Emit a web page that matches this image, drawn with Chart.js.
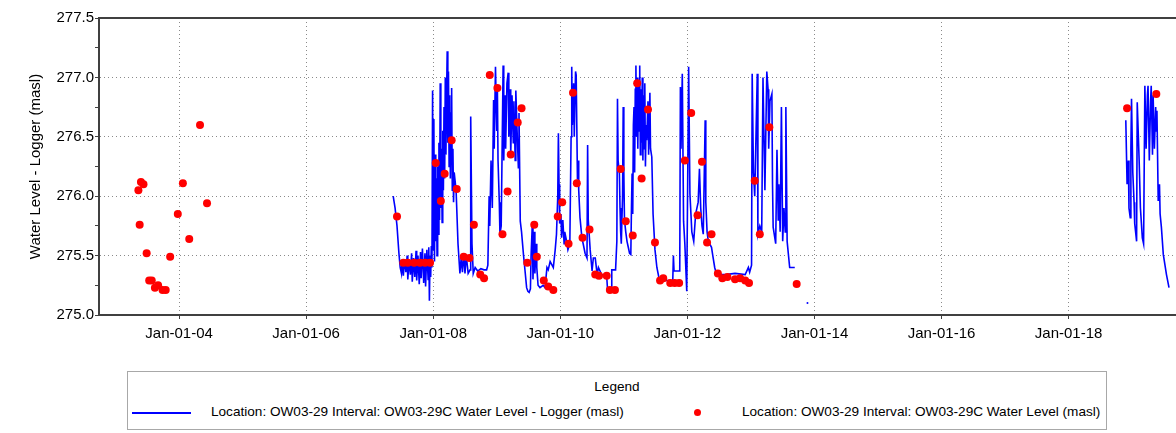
<!DOCTYPE html>
<html>
<head>
<meta charset="utf-8">
<title>OW03-29 water level</title>
<script src="https://cdn.jsdelivr.net/npm/chart.js@4.4.1/dist/chart.umd.min.js"></script>
<style>
  body { margin: 0; background: #fff; font-family: "Liberation Sans", Arial, sans-serif; }
  #wrap { position: relative; width: 1176px; height: 433px; overflow: hidden; }
  #chart { position: absolute; left: 0; top: 0; }
  #legend {
    position: absolute; left: 127px; top: 371px; width: 980px; height: 59px;
    border: 1px solid #a8a8a8; box-sizing: border-box; font-size: 13.6px; color: #000;
  }
  #legend .title { position: absolute; left: 0; right: 0; top: 7px; text-align: center; }
  #legend .item { position: absolute; top: 32px; white-space: nowrap; }
  #legend .line { position: absolute; top: 40px; left: 4px; width: 59px; border-top: 2px solid #0000ff; }
  #legend .dot { position: absolute; top: 37px; left: 566px; width: 7px; height: 7px; border-radius: 50%; background: #ff0000; }
</style>
</head>
<body>
<div id="wrap">
  <canvas id="chart" width="1176" height="349"></canvas>
  <div id="legend">
    <div class="title">Legend</div>
    <span class="line"></span>
    <span class="item" style="left:83px">Location: OW03-29 Interval: OW03-29C Water Level - Logger (masl)</span>
    <span class="dot"></span>
    <span class="item" style="left:614px">Location: OW03-29 Interval: OW03-29C Water Level (masl)</span>
  </div>
</div>
<script>
// axis ticks
const xTickYears = [2004, 2006, 2008, 2010, 2012, 2014, 2016, 2018];
const xTickLabels = ["Jan-01-04", "Jan-01-06", "Jan-01-08", "Jan-01-10", "Jan-01-12", "Jan-01-14", "Jan-01-16", "Jan-01-18"];

// manual water level readings [decimal year, masl]
const manualEarly = [
  [2003.36, 276.05], [2003.38, 275.76], [2003.40, 276.12], [2003.44, 276.10], [2003.49, 275.52],
  [2003.53, 275.29], [2003.57, 275.29], [2003.62, 275.23], [2003.67, 275.25], [2003.74, 275.21],
  [2003.79, 275.21], [2003.86, 275.49], [2003.98, 275.85], [2004.06, 276.11], [2004.16, 275.64],
  [2004.33, 276.60], [2004.44, 275.94]
];
const manualMid = [
  [2007.43, 275.83], [2007.53, 275.44], [2007.60, 275.44], [2007.70, 275.44], [2007.79, 275.44],
  [2007.87, 275.44], [2007.95, 275.44], [2008.04, 276.28], [2008.12, 275.96], [2008.18, 276.19],
  [2008.29, 276.47], [2008.37, 276.06], [2008.48, 275.49], [2008.57, 275.48], [2008.64, 275.76],
  [2008.74, 275.34], [2008.80, 275.31], [2008.89, 277.02], [2009.01, 276.91], [2009.09, 275.68],
  [2009.17, 276.04], [2009.22, 276.35], [2009.33, 276.62], [2009.39, 276.74], [2009.48, 275.44],
  [2009.59, 275.76], [2009.63, 275.49], [2009.74, 275.29], [2009.81, 275.24], [2009.89, 275.21],
  [2009.96, 275.83], [2010.03, 275.95], [2010.13, 275.60], [2010.20, 276.87], [2010.26, 276.11],
  [2010.35, 275.65], [2010.46, 275.72], [2010.55, 275.34], [2010.61, 275.33], [2010.73, 275.33],
  [2010.78, 275.21], [2010.86, 275.21], [2010.95, 276.23], [2011.03, 275.79], [2011.14, 275.67],
  [2011.21, 276.95], [2011.28, 276.15], [2011.38, 276.73], [2011.49, 275.61], [2011.57, 275.29],
  [2011.62, 275.31], [2011.73, 275.27], [2011.80, 275.27], [2011.87, 275.27], [2011.96, 276.30],
  [2012.06, 276.70], [2012.16, 275.84], [2012.23, 276.29], [2012.31, 275.61], [2012.38, 275.68],
  [2012.48, 275.35], [2012.55, 275.31], [2012.63, 275.32], [2012.75, 275.30], [2012.83, 275.31],
  [2012.91, 275.29], [2012.97, 275.27], [2013.06, 276.13], [2013.14, 275.68], [2013.29, 276.58],
  [2013.72, 275.26]
];
const manualLate = [[2018.92, 276.74], [2019.38, 276.86]];

// logger record [decimal year, masl]
const logger2007to2013 = [
  [2007.37, 276.00], [2007.40, 275.90], [2007.43, 275.75], [2007.46, 275.52], [2007.48, 275.40],
  [2007.50, 275.35], [2007.51, 275.45], [2007.53, 275.33], [2007.55, 275.47], [2007.57, 275.36],
  [2007.59, 275.50], [2007.60, 275.30], [2007.62, 275.46], [2007.64, 275.34], [2007.66, 275.52],
  [2007.67, 275.28], [2007.69, 275.48], [2007.71, 275.32], [2007.73, 275.54], [2007.74, 275.29],
  [2007.76, 275.50], [2007.78, 275.26], [2007.80, 275.53], [2007.81, 275.31], [2007.83, 275.56],
  [2007.85, 275.27], [2007.87, 275.52], [2007.88, 275.24], [2007.90, 275.55], [2007.92, 275.30],
  [2007.93, 275.57], [2007.94, 275.12], [2007.95, 275.50], [2007.96, 275.32], [2007.97, 275.58],
  [2007.98, 275.40], [2007.99, 276.89], [2008.00, 275.55], [2008.01, 276.65], [2008.02, 275.45],
  [2008.03, 276.35], [2008.04, 275.62], [2008.05, 276.15], [2008.06, 275.50], [2008.07, 276.25],
  [2008.08, 275.68], [2008.09, 276.45], [2008.10, 275.80], [2008.11, 276.95], [2008.12, 275.90],
  [2008.13, 276.40], [2008.14, 275.78], [2008.15, 276.55], [2008.16, 276.05], [2008.17, 276.75],
  [2008.18, 276.15], [2008.19, 277.00], [2008.20, 276.35], [2008.21, 276.85], [2008.22, 277.22],
  [2008.23, 276.45], [2008.24, 277.05], [2008.25, 276.25], [2008.26, 276.85], [2008.27, 276.15],
  [2008.28, 276.70], [2008.29, 276.91], [2008.30, 276.05], [2008.31, 276.40], [2008.32, 275.95],
  [2008.33, 276.20], [2008.36, 276.05], [2008.39, 275.60], [2008.42, 275.35], [2008.44, 275.48],
  [2008.46, 275.36], [2008.48, 275.52], [2008.50, 275.35], [2008.52, 275.50], [2008.55, 275.35],
  [2008.58, 275.38], [2008.59, 276.67], [2008.61, 275.60], [2008.63, 275.35], [2008.66, 275.40],
  [2008.70, 275.37], [2008.75, 275.39], [2008.80, 275.38], [2008.84, 275.38], [2008.86, 275.42],
  [2008.88, 276.00], [2008.89, 275.75], [2008.91, 276.30], [2008.93, 275.90], [2008.95, 276.81],
  [2008.96, 276.40], [2008.98, 277.09], [2009.00, 276.55], [2009.01, 276.90], [2009.02, 276.30],
  [2009.04, 275.95], [2009.05, 275.68], [2009.07, 275.75], [2009.10, 277.10], [2009.11, 276.30],
  [2009.13, 276.85], [2009.14, 276.40], [2009.16, 276.95], [2009.18, 277.04], [2009.19, 276.50],
  [2009.21, 276.90], [2009.22, 276.35], [2009.24, 276.85], [2009.26, 276.45], [2009.27, 276.80],
  [2009.29, 276.30], [2009.30, 276.89], [2009.32, 276.55], [2009.34, 276.24], [2009.35, 276.70],
  [2009.37, 275.79], [2009.39, 275.70], [2009.42, 275.51], [2009.44, 275.40], [2009.47, 275.23],
  [2009.49, 275.20], [2009.51, 275.19], [2009.53, 275.22], [2009.54, 275.50], [2009.56, 275.77],
  [2009.57, 275.30], [2009.59, 275.70], [2009.60, 275.35], [2009.62, 275.60], [2009.63, 275.40],
  [2009.65, 275.25], [2009.68, 275.23], [2009.73, 275.25], [2009.76, 275.23], [2009.79, 275.40],
  [2009.81, 275.38], [2009.84, 275.45], [2009.87, 275.42], [2009.89, 275.40], [2009.92, 275.55],
  [2009.94, 275.68], [2009.96, 276.00], [2009.97, 276.53], [2009.98, 276.10], [2009.99, 275.77],
  [2010.01, 275.85], [2010.02, 275.65], [2010.04, 275.80], [2010.06, 275.60], [2010.07, 275.70],
  [2010.10, 275.62], [2010.12, 275.55], [2010.15, 275.60], [2010.17, 276.50], [2010.18, 277.09],
  [2010.19, 276.60], [2010.21, 276.95], [2010.22, 276.50], [2010.24, 277.05], [2010.25, 277.02],
  [2010.27, 276.14], [2010.28, 276.30], [2010.29, 276.05], [2010.31, 275.82], [2010.34, 275.65],
  [2010.36, 275.60], [2010.39, 275.52], [2010.42, 275.48], [2010.43, 276.43], [2010.44, 275.80],
  [2010.47, 275.55], [2010.50, 275.37], [2010.52, 275.48], [2010.55, 275.48], [2010.58, 275.34],
  [2010.60, 275.40], [2010.65, 275.34], [2010.73, 275.33], [2010.745, 275.20], [2010.80, 275.20],
  [2010.81, 275.38], [2010.87, 275.38], [2010.89, 275.62], [2010.90, 276.82], [2010.91, 276.30],
  [2010.93, 276.19], [2010.94, 275.90], [2010.95, 275.70], [2010.96, 275.60], [2010.98, 276.00],
  [2010.99, 276.75], [2011.00, 276.20], [2011.01, 275.80], [2011.03, 275.70], [2011.05, 275.62],
  [2011.07, 275.57], [2011.09, 275.52], [2011.11, 275.51], [2011.12, 275.90], [2011.13, 276.19],
  [2011.14, 275.85], [2011.15, 276.60], [2011.16, 276.75], [2011.17, 276.20], [2011.18, 276.90],
  [2011.19, 277.10], [2011.20, 276.50], [2011.21, 277.00], [2011.22, 276.40], [2011.23, 276.95],
  [2011.24, 276.55], [2011.25, 277.10], [2011.26, 276.35], [2011.27, 276.90], [2011.28, 276.45],
  [2011.29, 277.00], [2011.30, 276.30], [2011.31, 276.85], [2011.32, 276.40], [2011.33, 276.95],
  [2011.34, 276.25], [2011.35, 276.60], [2011.36, 276.47], [2011.38, 276.80], [2011.39, 276.35],
  [2011.41, 276.87], [2011.42, 276.40], [2011.44, 276.33], [2011.46, 275.85], [2011.49, 275.55],
  [2011.52, 275.40], [2011.55, 275.32], [2011.57, 275.29], [2011.65, 275.29], [2011.77, 275.29],
  [2011.78, 275.50], [2011.79, 275.37], [2011.88, 275.37], [2011.89, 276.92], [2011.90, 276.40],
  [2011.92, 277.03], [2011.94, 275.79], [2011.96, 275.60], [2011.99, 275.20], [2012.02, 277.09],
  [2012.04, 276.02], [2012.07, 275.70], [2012.10, 275.62], [2012.13, 275.85], [2012.17, 275.95],
  [2012.19, 276.23], [2012.21, 275.90], [2012.23, 275.75], [2012.25, 275.68], [2012.28, 276.64],
  [2012.29, 275.95], [2012.31, 275.70], [2012.33, 275.62], [2012.38, 275.57], [2012.40, 275.50],
  [2012.43, 275.40], [2012.46, 275.34], [2012.60, 275.34], [2012.75, 275.35], [2012.91, 275.34],
  [2012.96, 275.40], [2012.98, 275.36], [2013.01, 275.42], [2013.02, 277.03], [2013.04, 276.20],
  [2013.06, 276.00], [2013.10, 277.03], [2013.11, 275.68], [2013.14, 275.75], [2013.17, 275.70],
  [2013.19, 277.00], [2013.22, 276.05], [2013.25, 277.05], [2013.27, 276.90], [2013.28, 276.40],
  [2013.30, 276.80], [2013.33, 276.86], [2013.34, 276.10], [2013.35, 275.74], [2013.39, 275.60],
  [2013.41, 276.39], [2013.43, 275.80], [2013.44, 276.10], [2013.46, 275.70], [2013.48, 276.75],
  [2013.50, 275.62], [2013.52, 275.90], [2013.54, 275.70], [2013.55, 276.75], [2013.57, 275.62],
  [2013.61, 275.40], [2013.69, 275.40]
];
const loggerSpot2013 = [[2013.89, 275.10]];
const logger2019 = [
  [2018.90, 276.64], [2018.92, 276.10], [2018.94, 276.30], [2018.95, 275.90], [2018.97, 275.82],
  [2018.98, 276.40], [2018.99, 276.82], [2019.01, 276.20], [2019.03, 275.95], [2019.04, 275.77],
  [2019.07, 275.62], [2019.08, 276.79], [2019.11, 276.30], [2019.13, 275.90], [2019.16, 275.65],
  [2019.18, 275.60], [2019.20, 276.93], [2019.22, 276.40], [2019.24, 276.85], [2019.25, 276.93],
  [2019.27, 276.30], [2019.29, 276.80], [2019.30, 276.93], [2019.32, 276.35], [2019.33, 276.85],
  [2019.35, 276.40], [2019.37, 276.75], [2019.38, 276.55], [2019.39, 276.72], [2019.41, 275.96],
  [2019.43, 276.10], [2019.44, 275.85], [2019.46, 275.74], [2019.49, 275.51], [2019.54, 275.34],
  [2019.58, 275.23]
];

const toPts = (arr) => arr.map(([x, y]) => ({x, y}));
const gapAfter = (arr) => ({x: arr[arr.length - 1][0], y: null});

const loggerData = [
  ...toPts(logger2007to2013), gapAfter(logger2007to2013),
  ...toPts(loggerSpot2013), gapAfter(loggerSpot2013),
  ...toPts(logger2019)
];
const manualData = toPts([...manualEarly, ...manualMid, ...manualLate]);

const axisColor = "#404040";
const gridColor = "#8a8a8a";
const tickFont = {family: "'Liberation Sans', Arial, sans-serif", size: 15};

// top frame line of the plot
const frameTop = {
  id: "frameTop",
  afterDraw(chart) {
    const {ctx, chartArea} = chart;
    ctx.save();
    ctx.strokeStyle = axisColor;
    ctx.lineWidth = 2;
    ctx.beginPath();
    ctx.moveTo(chartArea.left, chartArea.top);
    ctx.lineTo(chartArea.right, chartArea.top);
    ctx.stroke();
    ctx.restore();
  }
};

new Chart(document.getElementById("chart"), {
  type: "line",
  data: {
    datasets: [
      {
        label: "Location: OW03-29 Interval: OW03-29C Water Level (masl)",
        type: "scatter",
        data: manualData,
        showLine: false,
        pointRadius: 4,
        pointBackgroundColor: "#ff0000",
        pointBorderColor: "#ff0000",
        pointBorderWidth: 0
      },
      {
        label: "Location: OW03-29 Interval: OW03-29C Water Level - Logger (masl)",
        data: loggerData,
        borderColor: "#0000ff",
        borderWidth: 1.6,
        tension: 0,
        spanGaps: false,
        pointBackgroundColor: "#0000ff",
        pointBorderWidth: 0,
        pointRadius: (c) => {
          const d = c.dataset.data, i = c.dataIndex;
          const prev = d[i - 1], next = d[i + 1];
          const alone = (!prev || prev.y === null) && (!next || next.y === null);
          return alone ? 1 : 0;
        }
      }
    ]
  },
  options: {
    responsive: false,
    animation: false,
    events: [],
    layout: {autoPadding: false, padding: {top: 18, right: 0, bottom: 0, left: 0}},
    plugins: {legend: {display: false}, tooltip: {enabled: false}},
    scales: {
      x: {
        type: "linear",
        min: 2002.74,
        max: 2019.69,
        afterBuildTicks: (scale) => { scale.ticks = xTickYears.map((v) => ({value: v})); },
        afterFit: (scale) => { scale.paddingLeft = 0; scale.paddingRight = 0; },
        ticks: {
          color: "#000",
          font: tickFont,
          padding: 6,
          maxRotation: 0,
          autoSkip: false,
          callback: (v, i) => xTickLabels[i]
        },
        grid: {color: gridColor, lineWidth: 1, tickLength: 4, tickColor: axisColor, tickBorderDash: []},
        border: {display: true, color: axisColor, width: 2, dash: [1, 3]}
      },
      y: {
        min: 275,
        max: 277.5,
        afterFit: (scale) => { scale.width = 99; },
        ticks: {
          stepSize: 0.25,
          color: "#000",
          font: tickFont,
          padding: 1,
          callback: (v) => (Math.abs(v * 2 - Math.round(v * 2)) < 1e-6 ? v.toFixed(1) : "")
        },
        grid: {
          color: (c) => (c.tick && Math.abs(c.tick.value * 2 - Math.round(c.tick.value * 2)) < 1e-6 ? gridColor : "rgba(0,0,0,0)"),
          lineWidth: 1,
          tickLength: 4,
          tickColor: axisColor,
          tickBorderDash: []
        },
        border: {display: true, color: axisColor, width: 2, dash: [1, 3]},
        title: {
          display: true,
          text: "Water Level - Logger (masl)",
          color: "#000",
          font: tickFont,
          padding: {top: 27, bottom: 0}
        }
      }
    }
  },
  plugins: [frameTop]
});
</script>
</body>
</html>
